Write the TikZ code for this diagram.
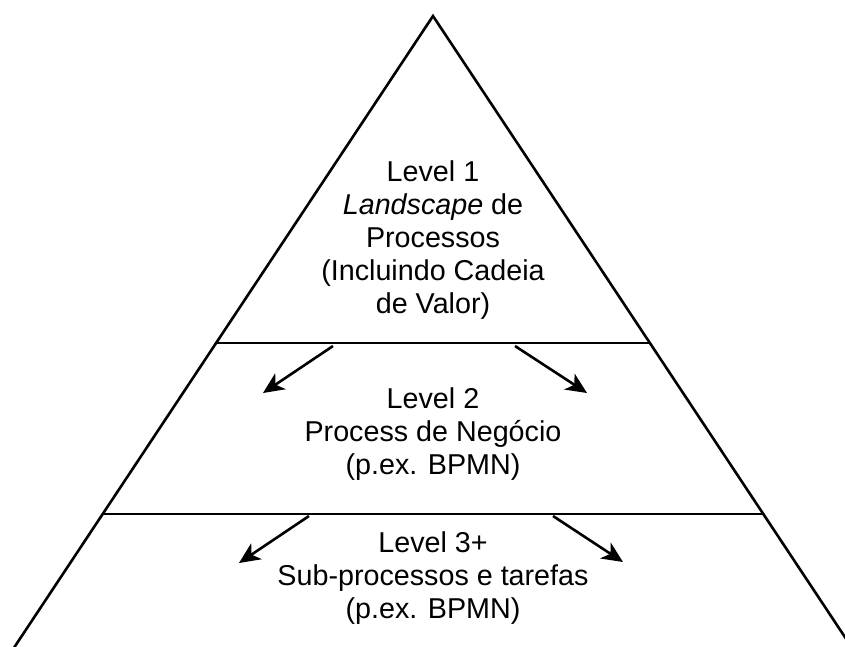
\documentclass[tikz,border=0pt]{standalone}
\usepackage{fontspec}
\setmainfont{Liberation Sans}
\usetikzlibrary{arrows.meta}
\begin{document}
\begin{tikzpicture}[x=1pt,y=-1pt,
  edge/.style={line width=2.6pt, line cap=round, line join=miter},
  flow/.style={line width=2.6pt, -{Stealth[length=21pt,width=19pt,inset=6pt]}},
  label/.style={align=center, inner sep=0pt, anchor=base,
    font=\fontsize{28.7}{33}\selectfont}]
  \useasboundingbox (0,0) rectangle (845,646);
  \clip (0,0) rectangle (845,646);

  % pyramid outline
  \coordinate (apex) at (433,16);
  \coordinate (baseL) at (-22,702);
  \coordinate (baseR) at (888,702);
  \draw[edge] (baseL) -- (apex) -- (baseR);

  % level dividers
  \coordinate (d1L) at (216.2,343);
  \coordinate (d1R) at (649.8,343);
  \coordinate (d2L) at (102.8,514);
  \coordinate (d2R) at (763.2,514);
  \draw[edge] (d1L) -- (d1R);
  \draw[edge] (d2L) -- (d2R);

  % refinement arrows
  \coordinate (a1s) at (333,346);
  \coordinate (a1e) at (263,393);
  \coordinate (a2s) at (515,346);
  \coordinate (a2e) at (587,393);
  \coordinate (a3s) at (309,516);
  \coordinate (a3e) at (239,563);
  \coordinate (a4s) at (553,516);
  \coordinate (a4e) at (623,562);
  \draw[flow] (a1s) -- (a1e);
  \draw[flow] (a2s) -- (a2e);
  \draw[flow] (a3s) -- (a3e);
  \draw[flow] (a4s) -- (a4e);

  % level texts (anchored on the baseline of their last line)
  \node[label] (lvl1) at (433,313) {Level 1\\\textit{Landscape} de\\Processos\\(Incluindo Cadeia\\de Valor)};
  \node[label] (lvl2) at (433,474) {Level 2\\Process de Negócio\\(p.ex. BPMN)};
  \node[label] (lvl3) at (433,618) {Level 3+\\Sub-processos e tarefas\\(p.ex. BPMN)};
\end{tikzpicture}
\end{document}
